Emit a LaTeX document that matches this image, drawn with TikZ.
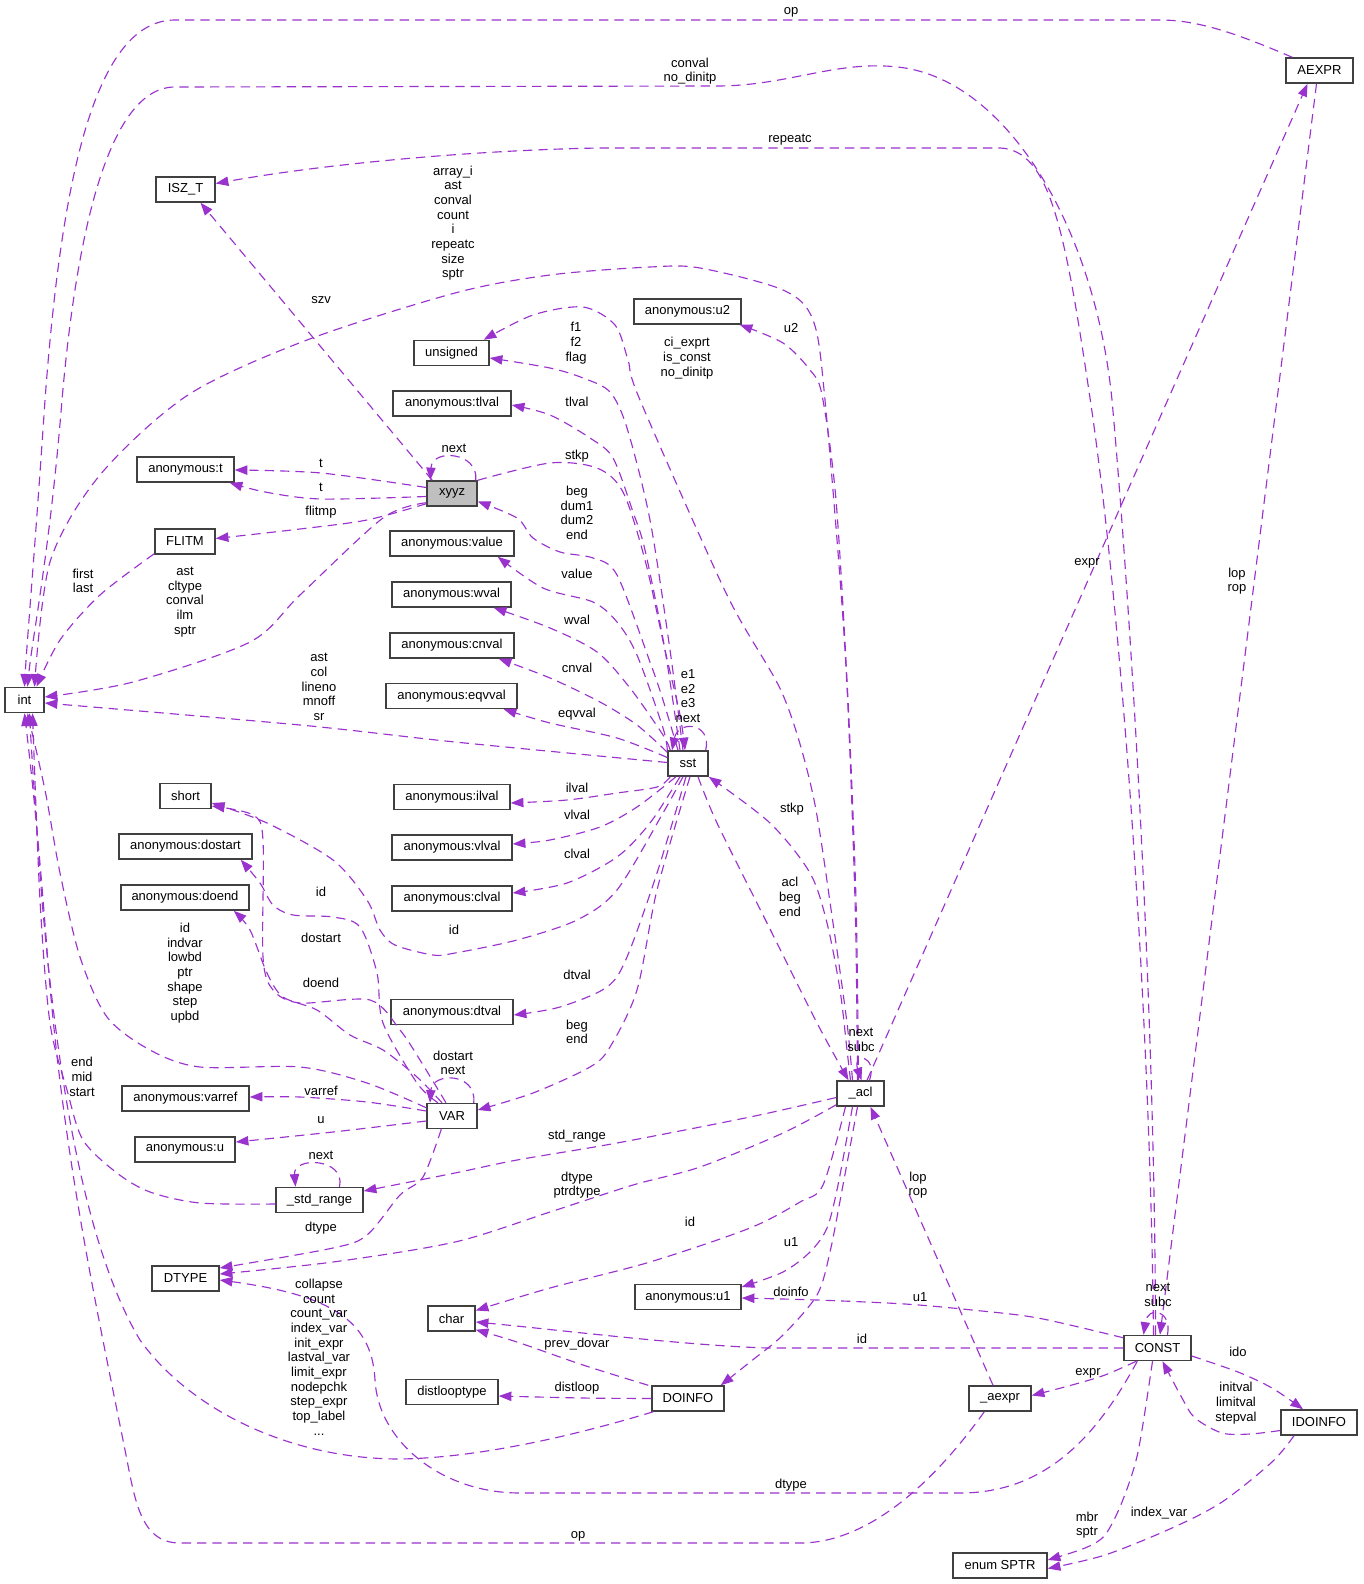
\documentclass[tikz,border=0pt]{standalone}
\usepackage{fontspec}
\setmainfont{Liberation Sans}
\usetikzlibrary{arrows.meta,calc}
\definecolor{ec}{HTML}{9A32CD}
\definecolor{bd}{HTML}{404040}
\begin{document}
\begin{tikzpicture}[x=0.75pt,y=-0.75pt,
  cls/.style={draw=bd,line width=1.1pt,fill=white,minimum height=18.75pt,inner sep=0pt,font=\fontsize{9.75}{11}\selectfont},
  rel/.style={draw=ec,line width=0.85pt,dash pattern=on 7pt off 4.5pt,-{Triangle[length=9.5pt,width=7pt]}},
  lbl/.style={align=center,inner sep=0pt,font=\fontsize{9.75}{11}\selectfont},
  lp/.style={smooth,tension=0.5}]
\useasboundingbox[fill=white] (0,0) rectangle (1363,1584);
% nodes
\node[cls,minimum width=50.25pt] (aexpr) at (1319.5,70.5) {AEXPR};
\node[cls,minimum width=44.25pt] (isz) at (185.5,189.5) {ISZ\_T};
\node[cls,minimum width=80.25pt] (u2) at (687.5,311.5) {anonymous:u2};
\node[cls,minimum width=56.25pt] (unsig) at (451.5,353) {unsigned};
\node[cls,minimum width=88.5pt] (tlval) at (452,403.5) {anonymous:tlval};
\node[cls,minimum width=72.75pt] (anont) at (185.5,469.5) {anonymous:t};
\node[cls,minimum width=37.5pt,fill={rgb,255:red,191;green,191;blue,191}] (xyyz) at (452,493.5) {xyyz};
\node[cls,minimum width=45pt] (flitm) at (185,541.5) {FLITM};
\node[cls,minimum width=93pt] (value) at (452,543.5) {anonymous:value};
\node[cls,minimum width=89.25pt] (wval) at (451.5,594.5) {anonymous:wval};
\node[cls,minimum width=93pt] (cnval) at (452,645.5) {anonymous:cnval};
\node[cls,minimum width=98.25pt] (eqvval) at (451.5,696) {anonymous:eqvval};
\node[cls,minimum width=29.25pt] (int) at (24.5,700) {int};
\node[cls,minimum width=30pt] (sst) at (688,763.5) {sst};
\node[cls,minimum width=38.25pt] (short) at (185.5,796) {short};
\node[cls,minimum width=87pt] (ilval) at (452,797) {anonymous:ilval};
\node[cls,minimum width=99.75pt] (dostart) at (185.5,846.5) {anonymous:dostart};
\node[cls,minimum width=90pt] (vlval) at (452,847.5) {anonymous:vlval};
\node[cls,minimum width=96pt] (doend) at (185,897.5) {anonymous:doend};
\node[cls,minimum width=90pt] (clval) at (452,898.5) {anonymous:clval};
\node[cls,minimum width=91.5pt] (dtval) at (452,1012) {anonymous:dtval};
\node[cls,minimum width=35.25pt] (acl) at (860.5,1093.5) {\_acl};
\node[cls,minimum width=95.25pt] (varref) at (185.5,1098.5) {anonymous:varref};
\node[cls,minimum width=37.5pt] (var) at (452,1116) {VAR};
\node[cls,minimum width=75pt] (anonu) at (185,1149.5) {anonymous:u};
\node[cls,minimum width=65.25pt] (stdr) at (319.5,1200) {\_std\_range};
\node[cls,minimum width=50.25pt] (dtype) at (185.5,1278.5) {DTYPE};
\node[cls,minimum width=79.5pt] (u1) at (688,1297) {anonymous:u1};
\node[cls,minimum width=35.25pt] (char) at (451.5,1318.5) {char};
\node[cls,minimum width=50.25pt] (const) at (1157.5,1348) {CONST};
\node[cls,minimum width=69pt] (dlt) at (452,1392) {distlooptype};
\node[cls,minimum width=54pt] (doinfo) at (688,1398.5) {DOINFO};
\node[cls,minimum width=46.5pt] (aexp2) at (1000,1398.5) {\_aexpr};
\node[cls,minimum width=57pt] (idoinfo) at (1319,1422.5) {IDOINFO};
\node[cls,minimum width=70.5pt] (sptr) at (1000,1565.5) {enum SPTR};
% edges
\draw[rel] ($(aexpr.north west)+(7,0)$) .. controls (1240,35) and (1200,20) .. (1160,20) -- (175,20) .. controls (90,20) and (60,200) .. (45,400) .. controls (35,550) and (27,640) .. (int.north);
\draw[rel] ($(const.north)+(-2,0)$) .. controls (1155,1000) and (1130,600) .. (1112,400) .. controls (1095,230) and (1010,85) .. (905,68) .. controls (840,58) and (790,86) .. (717,86) -- (175,87) .. controls (105,87) and (75,250) .. (62,400) .. controls (50,550) and (32,640) .. ($(int.north)+(3,0)$);
\draw[rel] ($(const.north)+(-4,0)$) .. controls (1150,1000) and (1120,600) .. (1090,398) .. controls (1065,230) and (1050,150) .. (1000,148) -- (600,148) .. controls (480,150) and (330,163) .. ($(isz.east)+(0,-6)$);
\draw[rel] plot[lp] coordinates {($(acl.north)+(-3,0)$) (855,900) (845,650) (825,400) (813,320) (783,290) (700,268) (650,267) (550,275) (455,293) (307,340) (188,395) (100,475) (50,562) ($(int.north)+(10,0)$)};
\draw[rel] plot[lp] coordinates {($(flitm.south west)+(0,-1)$) (100,595) (60,640) ($(int.north)+(12,0)$)};
\draw[rel] plot[lp] coordinates {($(xyyz.south west)+(0,-4)$) (383,518) (300,595) (250,642) (133,682) ($(int.east)+(0,-3)$)};
\draw[rel] plot[lp] coordinates {($(sst.west)+(0,-1)$) (455,742) (300,725) ($(int.east)+(0,3)$)};
\draw[rel] ($(xyyz.north west)+(6,0)$) -- ($(isz.south)+(15,0)$);
\draw[rel] ($(xyyz.north east)+(-2,0)$) .. controls (479,452) and (432,448) .. ($(xyyz.north west)+(4,0)$);
\draw[rel] plot[lp] coordinates {($(xyyz.west)+(0,-6)$) (321,473) ($(anont.east)+(0,0.5)$)};
\draw[rel] plot[lp] coordinates {($(xyyz.west)+(0,3)$) (321,499) (265,492) ($(anont.south east)+(-5,0)$)};
\draw[rel] plot[lp] coordinates {($(xyyz.south west)+(0,-3)$) (367,520) (300,529) ($(flitm.east)+(0,-3)$)};
\draw[rel] plot[lp] coordinates {(xyyz.north east) (550,463) (597,468) (623,492) (645,560) (665,650) (680,715) ($(sst.north)+(-3,0)$)};
\draw[rel] plot[lp] coordinates {($(sst.north)+(-10,0)$) (663,700) (650,662) (617,575) (593,558) (560,552) (533,538) (517,518) ($(xyyz.east)+(0,8)$)};
\draw[rel] plot[lp] coordinates {($(sst.north)+(-5,0)$) (670,650) (650,520) (627,428) (610,392) (583,378) (550,368) ($(unsig.east)+(0,5)$)};
\draw[rel] plot[lp] coordinates {($(acl.north)+(-8,0)$) (847,1023) (833,923) (813,795) (783,695) (727,595) (640,400) (628,360) (615,325) (583,307) (533,315) ($(unsig.north east)+(-6,0)$)};
\draw[rel] plot[lp] coordinates {($(acl.north)+(-2,0)$) (856,900) (848,700) (836,500) (822,395) (810,370) (783,343) ($(u2.south east)+(-2,0)$)};
\draw[rel] ($(acl.north)+(6.5,0)$) -- ($(aexpr.south)+(-12,0)$);
\draw[rel] ($(aexpr.south)+(-3,0)$) -- ($(const.north)+(2.5,0)$);
\draw[rel] ($(aexp2.north)+(-7,0)$) -- ($(acl.south)+(10,0)$);
\draw[rel] ($(acl.north)+(9,0)$) .. controls (878,1055) and (852,1052) .. ($(acl.north)+(1,0)$);
\draw[rel] ($(sst.north east)+(-3,0)$) .. controls (712,722) and (678,720) .. ($(sst.north)+(-16,0)$);
\draw[rel] plot[lp] coordinates {($(sst.north)+(-8,0)$) (665,650) (645,550) (633,512) (613,458) (590,438) (550,415) ($(tlval.east)+(0,1.5)$)};
\draw[rel] plot[lp] coordinates {(sst.north west) (663,728) (637,655) (617,622) (593,602) (543,588) ($(value.south east)+(-17,0)$)};
\draw[rel] plot[lp] coordinates {($(sst.north west)+(3,0)$) (663,735) (630,688) (597,652) (550,628) ($(wval.south east)+(-18,0)$)};
\draw[rel] plot[lp] coordinates {($(sst.north west)+(0,2)$) (637,725) (600,702) (550,678) ($(cnval.south east)+(-16,0)$)};
\draw[rel] plot[lp] coordinates {($(sst.west)+(0,-6)$) (617,738) (550,723) ($(eqvval.south east)+(-14,0)$)};
\draw[rel] plot[lp] coordinates {($(sst.south west)+(3,0)$) (657,787) (617,793) (567,800) ($(ilval.east)+(0,6)$)};
\draw[rel] plot[lp] coordinates {($(sst.south)+(-12,0)$) (637,807) (600,827) (550,840) ($(vlval.east)+(0,-3.5)$)};
\draw[rel] plot[lp] coordinates {($(sst.south)+(-8,0)$) (650,823) (617,857) (567,883) ($(clval.east)+(0,-5.5)$)};
\draw[rel] plot[lp] coordinates {($(sst.south)+(-5,0)$) (663,813) (617,890) (577,920) (517,940) (455,953) (433,955) (395,945) (380,930) (367,900) (333,860) (267,823) ($(short.east)+(0,7)$)};
\draw[rel] plot[lp] coordinates {($(sst.south)+(-2,0)$) (657,873) (627,957) (607,987) (560,1007) ($(dtval.east)+(0,3)$)};
\draw[rel] plot[lp] coordinates {($(sst.south)+(2,0)$) (657,890) (637,990) (610,1047) (590,1067) (533,1093) ($(var.east)+(0,-6)$)};
\draw[rel] plot[lp] coordinates {($(sst.south)+(10,0)$) (717,823) (767,923) (817,1023) ($(acl.north)+(-12,0)$)};
\draw[rel] plot[lp] coordinates {($(acl.north)+(-10,0)$) (847,1050) (840,990) (827,923) (810,873) (770,823) (sst.south east)};
\draw[rel] plot[lp] coordinates {($(acl.west)+(0,4)$) (750,1117) (617,1143) (517,1160) (455,1173) ($(stdr.east)+(0,-9)$)};
\draw[rel] plot[lp] coordinates {($(acl.south west)+(0,-2)$) (783,1133) (700,1167) (633,1185) (550,1212) (455,1242) (333,1262) ($(dtype.east)+(0,-4.5)$)};
\draw[rel] plot[lp] coordinates {($(acl.south)+(-15,0)$) (823,1185) (800,1202) (750,1228) (650,1262) (550,1288) ($(char.east)+(0,-8)$)};
\draw[rel] plot[lp] coordinates {($(acl.south)+(-8,0)$) (838,1185) (827,1228) (810,1252) (783,1272) ($(u1.east)+(0,-10)$)};
\draw[rel] plot[lp] coordinates {($(acl.south)+(-3,0)$) (843,1185) (830,1252) (817,1295) (783,1335) (750,1362) ($(doinfo.north east)+(-4,0)$)};
\draw[rel] plot[lp] coordinates {($(const.north west)+(0,3)$) (1038,1318) (972,1310) (905,1304) (817,1300) ($(u1.east)+(0,1)$)};
\draw[rel] (const.west) -- (767,1348) .. controls (680,1345) and (560,1330) .. ($(char.east)+(0,3.5)$);
\draw[rel] plot[lp] coordinates {($(doinfo.north west)+(-3,0)$) (583,1365) (517,1342) ($(char.south east)+(0,-2)$)};
\draw[rel] plot[lp] coordinates {(doinfo.west) (583,1398) ($(dlt.east)+(0,4)$)};
\draw[rel] ($(doinfo.south west)+(2,0)$) .. controls (560,1440) and (470,1458) .. (400,1459) .. controls (290,1459) and (190,1410) .. (140,1340) .. controls (80,1240) and (55,1050) .. (42,900) .. controls (36,820) and (32,760) .. ($(int.south)+(5,0)$);
\draw[rel] ($(aexp2.south west)+(16,0)$) .. controls (950,1460) and (880,1543) .. (800,1543) -- (180,1543) .. controls (140,1543) and (135,1500) .. (125,1450) .. controls (95,1300) and (62,1150) .. (47,950) .. controls (38,830) and (30,760) .. (int.south);
\draw[rel] ($(const.south west)+(14,0)$) .. controls (1100,1430) and (1050,1493) .. (960,1493) -- (520,1493) .. controls (440,1493) and (378,1440) .. (375,1380) .. controls (372,1320) and (330,1295) .. ($(dtype.east)+(0,1.5)$);
\draw[rel] plot[lp] coordinates {($(const.south west)+(13,0)$) (1105,1375) (1072,1385) ($(aexp2.east)+(0,-3)$)};
\draw[rel] plot[lp] coordinates {($(const.east)+(0,8)$) (1238,1372) (1272,1388) ($(idoinfo.north)+(-16,0)$)};
\draw[rel] plot[lp] coordinates {($(idoinfo.west)+(0,8)$) (1250,1434) (1222,1433) (1195,1418) (1182,1398) ($(const.south)+(5,0)$)};
\draw[rel] plot[lp] coordinates {($(const.south)+(-5,0)$) (1138,1452) (1122,1502) (1105,1535) (1085,1548) ($(sptr.east)+(0,-5.5)$)};
\draw[rel] plot[lp] coordinates {($(idoinfo.south)+(-25,0)$) (1272,1462) (1222,1502) (1172,1528) (1105,1555) ($(sptr.east)+(0,3)$)};
\draw[rel] plot[lp] coordinates {($(var.west)+(0,-5)$) (367,1102) (300,1097) ($(varref.east)+(0,-1.5)$)};
\draw[rel] plot[lp] coordinates {($(var.west)+(0,5)$) (333,1132) ($(anonu.east)+(0,-7.5)$)};
\draw[rel] plot[lp] coordinates {($(var.north west)+(0,5)$) (367,1083) (300,1067) (200,1067) (150,1050) (107,1017) (80,957) (60,873) (45,790) ($(int.south)+(3,0)$)};
\draw[rel] plot[lp] coordinates {($(stdr.west)+(0,4)$) (200,1203) (150,1192) (117,1173) (83,1140) (67,1090) (50,1023) (40,900) ($(int.south)+(8,0)$)};
\draw[rel] ($(stdr.north)+(20,0)$) .. controls (346,1158) and (293,1156) .. ($(stdr.north)+(-24,0)$);
\draw[rel] plot[lp] coordinates {($(var.south west)+(15,0)$) (423,1177) (400,1195) (367,1235) (333,1248) ($(dtype.east)+(0,-10.5)$)};
\draw[rel] ($(var.north east)+(-4,0)$) .. controls (477,1072) and (432,1072) .. ($(var.north)+(-22,0)$);
\draw[rel] plot[lp] coordinates {($(var.north)+(-14,0)$) (417,1083) (383,1023) (377,973) (360,927) (333,917) (293,915) (273,905) (260,883) ($(dostart.south east)+(-12,0)$)};
\draw[rel] plot[lp] coordinates {($(var.north)+(-10,0)$) (417,1077) (383,1050) (350,1035) (317,1010) (283,997) (267,973) (250,930) ($(doend.south east)+(-16,0)$)};
\draw[rel] plot[lp] coordinates {($(var.north)+(-6,0)$) (420,1060) (400,1030) (370,1000) (300,1003) (273,990) (263,957) (263,840) (253,815) ($(short.east)+(0,10)$)};
\draw[rel] ($(const.north)+(10,0)$) .. controls (1172,1310) and (1148,1305) .. ($(const.north)+(-14,0)$);
% labels
\node[lbl] (t1) at (791,12) {op};
\node[lbl] (t2) at (690,71) {conval\\no\_dinitp};
\node[lbl] (t3) at (790,140) {repeatc};
\node[lbl] (t4) at (453,223) {array\_i\\ast\\conval\\count\\i\\repeatc\\size\\sptr};
\node[lbl] (t5) at (321,300) {szv};
\node[lbl] (t6) at (576,343) {f1\\f2\\flag};
\node[lbl] (t7) at (687,358) {ci\_exprt\\is\_const\\no\_dinitp};
\node[lbl] (t8) at (791,328) {u2};
\node[lbl] (t9) at (577,402) {tlval};
\node[lbl] (t10) at (454,448) {next};
\node[lbl] (t11) at (321,463) {t};
\node[lbl] (t12) at (321,487) {t};
\node[lbl] (t13) at (321,512) {flitmp};
\node[lbl] (t14) at (577,456) {stkp};
\node[lbl] (t15) at (577,513) {beg\\dum1\\dum2\\end};
\node[lbl] (t16) at (83,581) {first\\last};
\node[lbl] (t17) at (185,602) {ast\\cltype\\conval\\ilm\\sptr};
\node[lbl] (t18) at (577,574) {value};
\node[lbl] (t19) at (577,620) {wval};
\node[lbl] (t20) at (577,668) {cnval};
\node[lbl] (t21) at (688,696) {e1\\e2\\e3\\next};
\node[lbl] (t22) at (319,687) {ast\\col\\lineno\\mnoff\\sr};
\node[lbl] (t23) at (577,714) {eqvval};
\node[lbl] (t24) at (1087,563) {expr};
\node[lbl] (t25) at (1237,581) {lop\\rop};
\node[lbl] (t26) at (577,788) {ilval};
\node[lbl] (t27) at (577,815) {vlval};
\node[lbl] (t28) at (577,854) {clval};
\node[lbl] (t29) at (792,809) {stkp};
\node[lbl] (t30) at (790,897) {acl\\beg\\end};
\node[lbl] (t31) at (454,930) {id};
\node[lbl] (t32) at (321,892) {id};
\node[lbl] (t33) at (321,938) {dostart};
\node[lbl] (t34) at (321,983) {doend};
\node[lbl] (t35) at (185,973) {id\\indvar\\lowbd\\ptr\\shape\\step\\upbd};
\node[lbl] (t36) at (577,975) {dtval};
\node[lbl] (t37) at (577,1032) {beg\\end};
\node[lbl] (t38) at (861,1040) {next\\subc};
\node[lbl] (t39) at (453,1063) {dostart\\next};
\node[lbl] (t40) at (82,1077) {end\\mid\\start};
\node[lbl] (t41) at (321,1091) {varref};
\node[lbl] (t42) at (321,1120) {u};
\node[lbl] (t43) at (577,1136) {std\_range};
\node[lbl] (t44) at (321,1155) {next};
\node[lbl] (t45) at (577,1185) {dtype\\ptrdtype};
\node[lbl] (t46) at (918,1185) {lop\\rop};
\node[lbl] (t47) at (321,1228) {dtype};
\node[lbl] (t48) at (690,1222) {id};
\node[lbl] (t49) at (791,1242) {u1};
\node[lbl] (t50) at (319,1357) {collapse\\count\\count\_var\\index\_var\\init\_expr\\lastval\_var\\limit\_expr\\nodepchk\\step\_expr\\top\_label\\...};
\node[lbl] (t51) at (791,1292) {doinfo};
\node[lbl] (t52) at (920,1297) {u1};
\node[lbl] (t53) at (1158,1295) {next\\subc};
\node[lbl] (t54) at (862,1339) {id};
\node[lbl] (t55) at (577,1344) {prev\_dovar};
\node[lbl] (t56) at (1238,1352) {ido};
\node[lbl] (t57) at (1088,1373) {expr};
\node[lbl] (t58) at (577,1388) {distloop};
\node[lbl] (t59) at (1236,1403) {initval\\limitval\\stepval};
\node[lbl] (t60) at (791,1485) {dtype};
\node[lbl] (t61) at (1159,1513) {index\_var};
\node[lbl] (t62) at (1087,1525) {mbr\\sptr};
\node[lbl] (t63) at (578,1536) {op};
\end{tikzpicture}
\end{document}
